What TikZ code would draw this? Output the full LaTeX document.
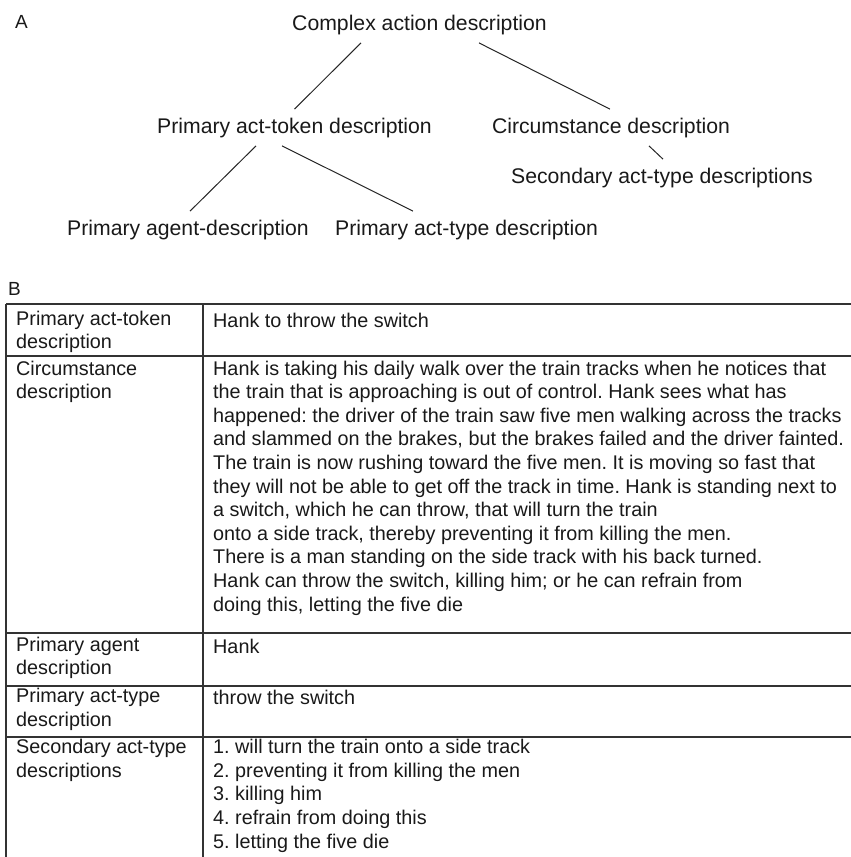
\documentclass[tikz,border=0pt]{standalone}
\usepackage{fontspec}
\setmainfont{Liberation Sans}
\frenchspacing
\newcommand\treefont{\fontsize{21.2}{25}\selectfont}
\newcommand\cellfont{\fontsize{19.8}{23.6}\selectfont}
\newcommand\partfont{\fontsize{19}{23}\selectfont}

\begin{document}
\begin{tikzpicture}[x=1pt,y=-1pt,
  tree/.style={font=\treefont,inner sep=0pt,outer ysep=8.5pt,anchor=base,text=black!90},
  part/.style={font=\partfont,inner sep=0pt,anchor=base west,text=black!90},
  cell/.style={font=\cellfont,inner sep=0pt,anchor=north west,align=left,text=black!90,
               execute at begin node=\strut},
  branch/.style={draw=black!85,line width=1pt},
  rule/.style={draw=black!80,line width=1.3pt}]
\useasboundingbox (0,0) rectangle (851,857);
\node    (A) at (15,28)     [part] {A};
\node   (ca) at (419.5,30)  [tree] {Complex action description};
\node  (pat) at (294.5,133) [tree] {Primary act-token description};
\node   (cd) at (611,133)   [tree] {Circumstance description};
\node  (sat) at (662,183)   [tree] {Secondary act-type descriptions};
\node  (pag) at (188,235)   [tree] {Primary agent-description};
\node  (pty) at (466.5,235) [tree] {Primary act-type description};
\draw [branch] ([xshift=-58.5pt]ca.south) -- (pat.north);
\draw [branch] ([xshift=59.5pt]ca.south)  -- ([xshift=-1pt]cd.north);
\draw [branch] ([xshift=38pt]cd.south)    -- ([xshift=1pt]sat.north);
\draw [branch] ([xshift=-38.5pt]pat.south) -- ([xshift=2pt]pag.north);
\draw [branch] ([xshift=-12.5pt]pat.south) -- ([xshift=-53.5pt]pty.north);
\node    (B) at (8,295)     [part] {B};
\foreach \y in {304,356,633,686,737}
  \draw [rule] (6,\y) -- (851,\y);
\draw [rule] (6,304) -- (6,857);
\draw [rule] (203,304) -- (203,857);
\node  (r1l) at (16,310.5)  [cell] {Primary act-token\\description};
\node  (r1r) at (213,310.5) [cell] {Hank to throw the switch};
\node  (r2l) at (16,360.5)  [cell] {Circumstance\\description};
\node  (r2r) at (213,360.5) [cell] {Hank is taking his daily walk over the train tracks when he notices that\\
  the train that is approaching is out of control. Hank sees what has\\
  happened: the driver of the train saw five men walking across the tracks\\
  and slammed on the brakes, but the brakes failed and the driver fainted.\\
  The train is now rushing toward the five men. It is moving so fast that\\
  they will not be able to get off the track in time. Hank is standing next to\\
  a switch, which he can throw, that will turn the train\\
  onto a side track, thereby preventing it from killing the men.\\
  There is a man standing on the side track with his back turned.\\
  Hank can throw the switch, killing him; or he can refrain from\\
  doing this, letting the five die};
\node  (r3l) at (16,636.5)  [cell] {Primary agent\\description};
\node  (r3r) at (213,636.5) [cell] {Hank};
\node  (r4l) at (16,688)    [cell] {Primary act-type\\description};
\node  (r4r) at (213,688)   [cell] {throw the switch};
\node  (r5l) at (16,739.2)  [cell] {Secondary act-type\\descriptions};
\node  (r5r) at (213,739.2) [cell] {1. will turn the train onto a side track\\
  2. preventing it from killing the men\\
  3. killing him\\
  4. refrain from doing this\\
  5. letting the five die};
\end{tikzpicture}
\end{document}
